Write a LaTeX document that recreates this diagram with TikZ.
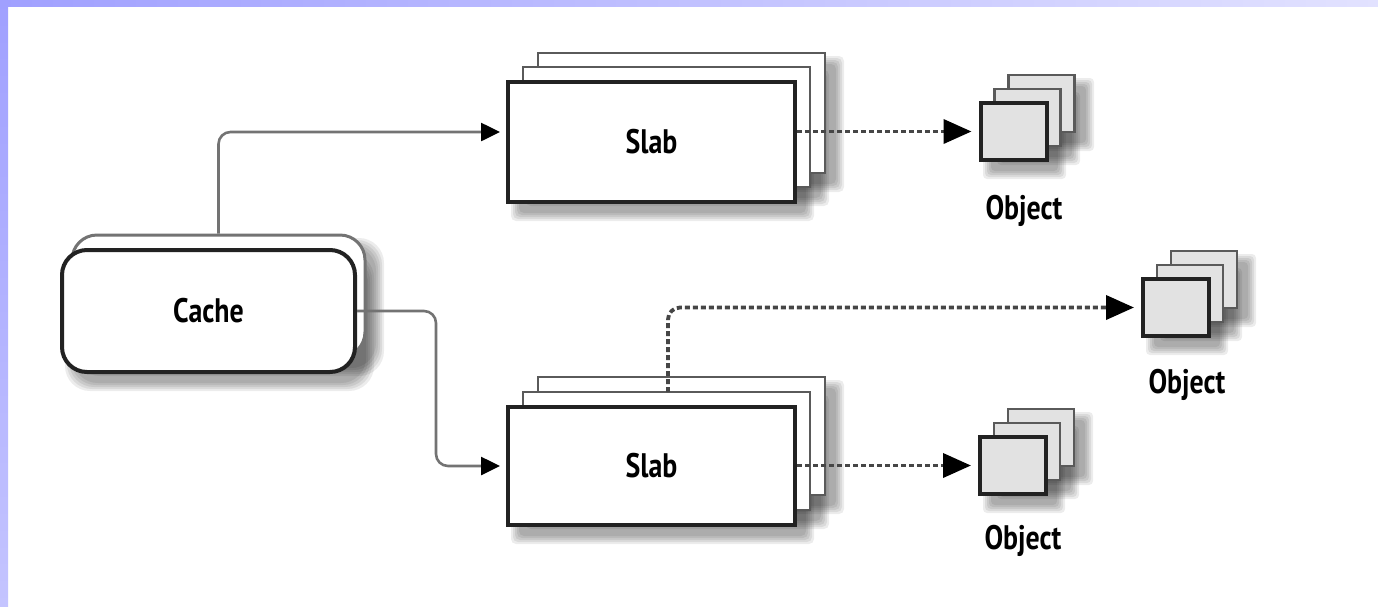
\documentclass[tikz,border=0pt]{standalone}
\usepackage{fontspec}
\newfontfamily\labfont[FakeStretch=0.82]{PT Sans}
\usetikzlibrary{arrows.meta,calc}
\definecolor{bandA}{RGB}{160,160,255}
\definecolor{bandB}{RGB}{226,226,255}
\definecolor{bandC}{RGB}{196,196,255}
\definecolor{frontline}{RGB}{34,34,34}
\definecolor{backline}{RGB}{90,90,90}
\definecolor{connline}{RGB}{115,115,115}
\definecolor{dotline}{RGB}{70,70,70}
\definecolor{objfill}{RGB}{226,226,226}
\newcommand\fuzzyshadow[5]{%
  \foreach \k in {0,2,4,6,8}{%
    \fill[black,opacity=0.075,rounded corners=#5]
      ({#1+11-\k},{#2+11-\k}) rectangle ({#3+11+\k},{#4+11+\k});}}
\tikzset{
  lab/.style={font=\labfont\bfseries\fontsize{34}{40}\selectfont,text=black},
  frontbox/.style={draw=frontline,line width=4pt,fill=white,inner sep=0pt,rectangle},
  backbox/.style={draw=backline,line width=2.6pt,fill=white,inner sep=0pt,rectangle},
  slabsize/.style={minimum width=287pt,minimum height=#1},
  objfront/.style={draw=frontline,line width=4pt,fill=objfill,inner sep=0pt,minimum width=66pt,minimum height=57pt},
  objback/.style={draw=backline,line width=2.6pt,fill=objfill,inner sep=0pt,minimum width=66pt,minimum height=57pt},
  conn/.style={draw=connline,line width=2.6pt,rounded corners=12pt,-{Triangle[length=19pt,width=18pt,color=black]}},
  dotarrow/.style={draw=dotline,line width=3.8pt,dash pattern=on 5pt off 3pt,rounded corners=12pt,-{Triangle[length=28pt,width=24pt,color=black]}},
}
\begin{document}
\begin{tikzpicture}[x=1pt,y=-1pt]
\useasboundingbox (0,0) rectangle (1378,606);
\fill[white] (0,0) rectangle (1378,606);
\shade[left color=bandA,right color=bandB] (0,0) rectangle (1378,6);
\shade[top color=bandA,bottom color=bandC] (0,0) rectangle (8,606);

% shadows
\fuzzyshadow{62}{250}{355}{372}{25pt}
\fuzzyshadow{72}{235}{365}{357}{25pt}
\fuzzyshadow{508}{82}{795}{202}{5pt}
\fuzzyshadow{523}{67}{810}{187}{5pt}
\fuzzyshadow{538}{53}{825}{173}{5pt}
\fuzzyshadow{508}{407}{795}{525}{5pt}
\fuzzyshadow{523}{392}{810}{510}{5pt}
\fuzzyshadow{538}{377}{825}{495}{5pt}
\fuzzyshadow{980}{103}{1047}{160}{4pt}
\fuzzyshadow{994}{89}{1061}{146}{4pt}
\fuzzyshadow{1008}{75}{1075}{132}{4pt}
\fuzzyshadow{1143}{279}{1209}{336}{4pt}
\fuzzyshadow{1157}{265}{1223}{322}{4pt}
\fuzzyshadow{1171}{251}{1237}{308}{4pt}
\fuzzyshadow{980}{437}{1046}{494}{4pt}
\fuzzyshadow{994}{423}{1060}{480}{4pt}
\fuzzyshadow{1008}{409}{1074}{466}{4pt}

% cache
\node[draw=connline,line width=3pt,fill=white,rounded corners=25pt,minimum width=293pt,minimum height=122pt,inner sep=0pt] (cacheback) at (218.5,296) {};
\node[draw=frontline,line width=4pt,fill=white,rounded corners=25pt,minimum width=293pt,minimum height=122pt,inner sep=0pt,lab] (cache) at (208.5,311) {Cache};

% top slab stack
\node[backbox,slabsize=120pt] (slabAb2) at (681.5,113) {};
\node[backbox,slabsize=120pt] (slabAb1) at (666.5,127) {};
\node[frontbox,slabsize=120pt,lab] (slabA) at (651.5,142) {Slab};

% bottom slab stack
\node[backbox,slabsize=118pt] (slabBb2) at (681.5,436) {};
\node[backbox,slabsize=118pt] (slabBb1) at (666.5,451) {};
\node[frontbox,slabsize=118pt,lab] (slabB) at (651.5,466) {Slab};

% objects
\node[objback] (objAb2) at (1041.5,103.5) {};
\node[objback] (objAb1) at (1027.5,117.5) {};
\node[objfront] (objA) at (1013.5,131.5) {};
\node[lab] (objAl) at (1024,211) {Object};

\node[objback] (objBb2) at (1204,279.5) {};
\node[objback] (objBb1) at (1190,293.5) {};
\node[objfront] (objB) at (1176,307.5) {};
\node[lab] (objBl) at (1187,385) {Object};

\node[objback] (objCb2) at (1041,437.5) {};
\node[objback] (objCb1) at (1027,451.5) {};
\node[objfront] (objC) at (1013,465.5) {};
\node[lab] (objCl) at (1023,541) {Object};

% connectors
\draw[conn] (cacheback.north) |- ([xshift=-6pt,yshift=10pt]slabA.west);
\draw[conn] (cache.east) -| ([xshift=-70pt]slabB.west) -- ([xshift=-6pt]slabB.west);
\draw[dotarrow] (slabA.east |- objA.west) -- ([xshift=-7pt]objA.west);
\draw[dotarrow] (slabB.east |- objC.west) -- ([xshift=-7pt]objC.west);
\coordinate (dstart) at (668,392);
\draw[dotarrow] (dstart) |- ([xshift=-7pt]objB.west);
\end{tikzpicture}
\end{document}
